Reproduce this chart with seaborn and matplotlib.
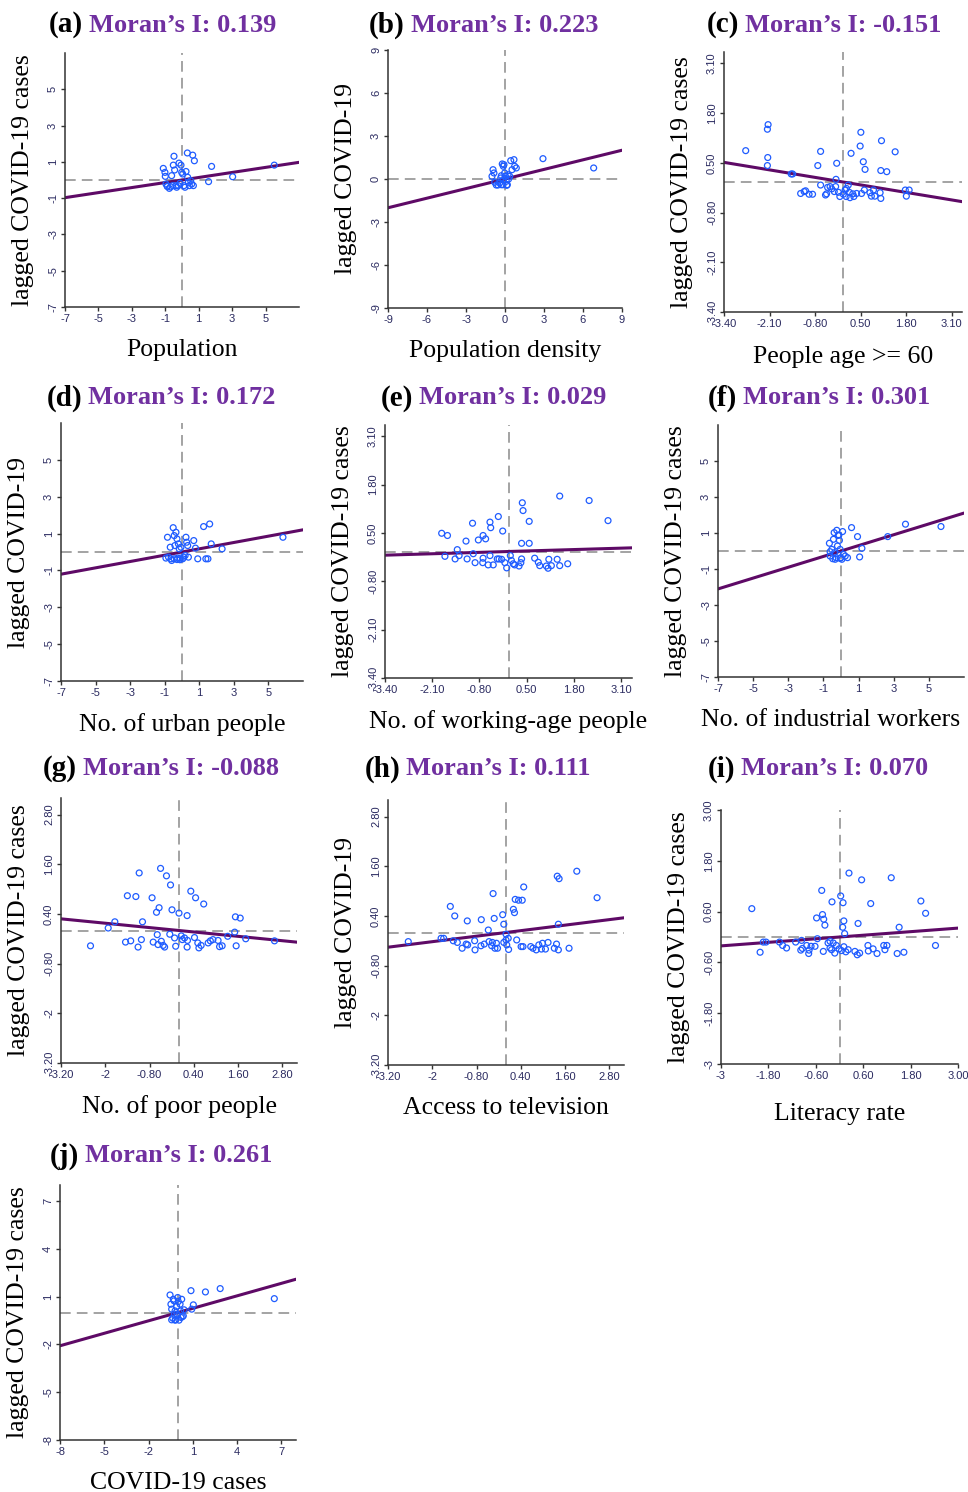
import numpy as np
import pandas as pd
import matplotlib.pyplot as plt
import seaborn as sns

sns.set_theme(style="ticks")
plt.rcParams["font.family"] = ["Liberation Serif", "DejaVu Serif"]

# ---- data ----
a_x = [-1.12, -1.02, -1.0, -0.96, -0.88, -0.76, -0.62, -0.52, -0.48, -0.44, -0.36, -0.22, -0.18, -0.06, -0.02, 0.04,
       0.12, 0.24, 0.32, 0.34, 0.38, 0.44, 0.52, 0.58, 0.64, 0.68, 0.74, 1.77, 1.59, 3.03, 5.52, -0.88, -0.68, -0.32,
       0.18, -0.12, -0.56]
a_y = [0.64, 0.42, 0.2, -0.22, -0.33, -0.46, 0.24, 0.82, 1.31, 0.55, -0.31, -0.31, 0.93, 0.82, 0.42, 0.33,
       -0.31, 0.47, 1.49, 0.15, -0.13, -0.31, -0.04, -0.22, 1.37, -0.31, 1.06, 0.75, -0.09, 0.18, 0.82, -0.36, -0.38,
       -0.4, -0.4, -0.18, -0.31]

b_x = [-0.92, -0.85, -1.0, -0.79, -0.67, -0.54, -0.41, -0.28, -0.15, -0.08, -0.13, -0.03, 0.03, 0.10, 0.18, 0.23,
       0.36, 0.44, 0.54, 0.69, 0.87, 0.74, -0.21, -0.28, -0.33, 2.92, 6.82, -0.15, 0.13, 0.28]
b_y = [0.65, 0.42, 0.19, -0.23, -0.42, -0.42, -0.28, -0.40, -0.05, 1.0, 0.89, 0.42, 0.19, -0.16, -0.40, 0.30,
       0.19, 1.28, 0.65, 1.35, 0.77, 0.89, 1.05, 0.23, 0.07, 1.42, 0.77, -0.4, -0.44, 0.0]

c_x = [-2.78, -2.16, -2.14, -2.15, -2.16, -1.48, -1.44, -1.21, -1.11, -1.07, -0.97, -0.87, -0.72, -0.64, -0.64,
       -0.50, -0.47, -0.44, -0.37, -0.32, -0.25, -0.21, -0.18, -0.20, -0.13, -0.09, 0.01, 0.06, 0.09, 0.10, 0.15,
       0.18, 0.20, 0.23, 0.28, 0.31, 0.39, 0.49, 0.51, 0.53, 0.58, 0.61, 0.63, 0.77, 0.81, 0.87, 0.91, 1.06, 1.08,
       1.10, 1.08, 1.25, 1.49, 1.78, 1.81, 1.89]
c_y = [0.82, 1.38, 1.50, 0.64, 0.43, 0.21, 0.21, -0.30, -0.25, -0.23, -0.32, -0.32, 0.43, 0.80, -0.08,
       -0.34, -0.31, -0.14, -0.12, -0.18, -0.25, -0.12, 0.49, 0.07, -0.27, -0.38, -0.32, -0.21, -0.38, -0.17, -0.08,
       -0.27, -0.41, 0.75, -0.31, -0.38, -0.30, 0.94, 1.30, -0.30, 0.53, -0.21, 0.33, -0.28, -0.37, -0.21, -0.37,
       -0.28, -0.43, 1.08, 0.30, 0.27, 0.79, -0.21, -0.37, -0.21]

d_x = [-0.84, -0.68, -0.64, -0.51, -0.45, -0.41, -0.35, -0.29, -0.25, -0.21, -0.16, -0.10, -0.06, 0.04, 0.10, 0.18,
       0.23, 0.27, 0.33, 0.37, 0.68, 0.78, 0.91, 1.25, 1.38, 1.50, 1.60, 1.69, 2.32, 5.84, -0.93, -0.78, -0.60, -0.45,
       -0.29, -0.12]
d_y = [0.80, 0.26, -0.37, 1.32, 0.89, 0.35, 1.07, 0.71, -0.33, 0.44, 0.17, -0.33, 0.26, -0.37, -0.28, -0.19,
       0.80, 0.53, 0.35, -0.28, 0.62, 0.21, -0.37, 1.38, -0.37, -0.37, 1.52, 0.44, 0.17, 0.80, -0.33, -0.28, -0.46,
       -0.37, -0.41, -0.42]

e_x = [-1.84, -1.68, -1.75, -1.47, -1.41, -1.36, -1.17, -1.14, -0.99, -0.97, -0.92, -0.83, -0.70, -0.63, -0.70,
       -0.71, -0.56, -0.51, -0.49, -0.51, -0.42, -0.28, -0.31, -0.26, -0.19, -0.16, -0.10, -0.05, 0.05, 0.08, 0.13,
       0.17, 0.29, 0.36, 0.36, 0.34, 0.38, 0.40, 0.57, 0.57, 0.72, 0.82, 0.86, 1.04, 1.09, 1.11, 1.18, 1.34, 1.41,
       1.41, 1.63, 2.22, 2.74]
e_y = [0.49, 0.43, -0.13, -0.20, 0.05, -0.11, 0.28, -0.20, 0.76, -0.06, -0.30, 0.31, 0.43, 0.34, -0.18,
       -0.30, -0.36, 0.79, 0.64, -0.11, -0.36, 0.94, -0.20, -0.20, -0.21, 0.55, -0.30, -0.44, -0.11, -0.24, -0.33,
       -0.36, -0.39, 0.22, -0.20, -0.30, 1.31, 1.10, 0.81, 0.22, -0.18, -0.29, -0.38, -0.39, -0.45, -0.21, -0.38,
       -0.21, -0.38, 1.49, -0.33, 1.37, 0.83]

f_x = [-0.66, -0.62, -0.52, -0.47, -0.43, -0.39, -0.33, -0.28, -0.24, -0.20, -0.16, -0.12, -0.09, -0.05, -0.05,
       -0.01, 0.05, 0.09, 0.14, 0.24, 0.37, 0.60, 0.94, 1.06, 1.19, 2.66, 3.67, 5.69, -0.62, -0.37]
f_y = [0.43, -0.28, 0.09, -0.43, 0.65, 1.02, -0.46, -0.37, 1.15, 0.28, 0.87, 0.89, 0.59, 0.09, -0.41,
       -0.37, -0.46, 1.08, -0.19, -0.28, -0.37, 1.30, 0.80, -0.33, 0.15, 0.80, 1.49, 1.36, -0.04, -0.09]

g_x = [-2.40, -1.92, -1.74, -1.45, -1.40, -1.31, -1.17, -1.11, -1.08, -1.02, -0.99, -0.73, -0.70, -0.61, -0.59,
       -0.57, -0.54, -0.50, -0.48, -0.43, -0.39, -0.34, -0.25, -0.23, -0.19, -0.12, -0.09, 0.00, 0.06, 0.09, 0.15,
       0.22, 0.22, 0.23, 0.32, 0.42, 0.45, 0.51, 0.54, 0.60, 0.67, 0.79, 0.85, 0.92, 1.06, 1.10, 1.17, 1.32, 1.51,
       1.53, 1.55, 1.66, 1.81, 2.59]
g_y = [-0.37, 0.06, 0.21, -0.28, 0.84, -0.25, 0.82, -0.40, 1.39, -0.22, 0.21, 0.79, -0.28, 0.44, -0.10,
       -0.34, 0.55, 1.50, -0.26, -0.36, -0.40, 1.32, -0.09, 1.10, 0.50, -0.18, -0.38, 0.42, -0.13, -0.22, -0.18,
       -0.40, 0.36, -0.24, 0.95, -0.17, 0.79, -0.30, -0.42, -0.36, 0.64, -0.30, -0.25, -0.22, -0.24, -0.39, -0.37,
       -0.14, -0.04, 0.33, -0.37, 0.30, -0.20, -0.25]

h_x = [-2.65, -1.76, -1.69, -1.51, -1.43, -1.39, -1.32, -1.19, -1.08, -1.05, -1.04, -0.85, -0.84, -0.68, -0.67,
       -0.59, -0.48, -0.46, -0.39, -0.37, -0.35, -0.32, -0.30, -0.26, -0.23, -0.09, -0.06, -0.06, 0.00, 0.00, 0.02,
       0.06, 0.07, 0.20, 0.23, 0.25, 0.29, 0.34, 0.41, 0.44, 0.46, 0.48, 0.67, 0.73, 0.82, 0.89, 0.96, 0.99, 1.07,
       1.14, 1.31, 1.37, 1.39, 1.42, 1.42, 1.44, 1.71, 1.92, 2.47]
h_y = [-0.22, -0.14, -0.14, 0.63, -0.20, 0.40, -0.24, -0.38, -0.28, 0.28, -0.30, -0.20, -0.42, -0.32, 0.31,
       -0.28, 0.06, -0.22, -0.32, -0.24, 0.94, 0.34, -0.38, -0.26, -0.38, 0.43, 0.20, -0.24, -0.04, -0.18, -0.30,
       -0.14, -0.41, 0.56, 0.48, 0.80, -0.18, 0.78, -0.34, 0.78, -0.34, 1.10, -0.34, -0.38, -0.42, -0.30, -0.40,
       -0.26, -0.40, -0.24, -0.38, -0.28, 1.36, 0.20, -0.42, 1.30, -0.38, 1.48, 0.84]

i_x = [-2.22, -2.01, -1.93, -1.86, -1.52, -1.44, -1.34, -1.11, -0.98, -0.94, -0.96, -0.83, -0.78, -0.77, -0.72,
       -0.62, -0.58, -0.56, -0.45, -0.43, -0.41, -0.40, -0.37, -0.29, -0.24, -0.24, -0.20, -0.19, -0.16, -0.12,
       -0.08, -0.01, 0.03, 0.05, 0.08, 0.09, 0.11, 0.11, 0.13, 0.16, 0.22, 0.24, 0.39, 0.45, 0.47, 0.51, 0.56, 0.72,
       0.73, 0.79, 0.85, 0.95, 1.12, 1.15, 1.20, 1.31, 1.46, 1.51, 1.63, 2.06, 2.18, 2.43]
i_y = [0.67, -0.36, -0.12, -0.12, -0.12, -0.20, -0.26, -0.12, -0.31, -0.27, -0.08, -0.20, -0.39, -0.31, -0.22,
       -0.22, 0.45, -0.04, 1.10, 0.53, -0.34, 0.42, 0.28, -0.14, -0.10, -0.26, -0.30, 0.83, -0.14, -0.38,
       -0.20, -0.28, 0.97, -0.32, 0.23, 0.81, 0.38, -0.23, 0.08, -0.35, -0.30, 1.51, -0.34, -0.42, 0.32, -0.38, 1.35,
       -0.20, -0.33, 0.79, -0.28, -0.39, -0.20, -0.30, -0.20, 1.40, -0.39, 0.23, -0.36, 0.85, 0.56, -0.20]

j_x = [-0.54, -0.48, -0.43, -0.36, -0.32, -0.27, -0.25, -0.20, -0.16, -0.09, -0.05, -0.02, 0.02, 0.07, 0.14, 0.18,
       0.20, 0.25, 0.29, 0.36, 0.41, 0.88, 0.93, 1.04, 1.86, 2.86, 6.53, -0.43, -0.20]
j_y = [1.10, 0.52, 0.21, -0.35, 0.83, 0.73, -0.10, 0.10, -0.46, 0.37, -0.10, 0.94, 0.69, -0.48, 0.52, 0.10,
       -0.31, 0.83, -0.27, -0.21, 0.17, 1.37, 0.21, 0.48, 1.29, 1.50, 0.87, -0.46, -0.48]

letters = ["a", "b", "c", "d", "e", "f", "g", "h", "i", "j"]
morans_i = [0.139, 0.223, -0.151, 0.172, 0.029, 0.301, -0.088, 0.111, 0.070, 0.261]
xlabels = ["Population", "Population density", "People age >= 60", "No. of urban people",
           "No. of working-age people", "No. of industrial workers", "No. of poor people",
           "Access to television", "Literacy rate", "COVID-19 cases"]
ylabels = ["lagged COVID-19 cases", "lagged COVID-19", "lagged COVID-19 cases", "lagged COVID-19",
           "lagged COVID-19 cases", "lagged COVID-19 cases", "lagged COVID-19 cases", "lagged COVID-19",
           "lagged COVID-19 cases", "lagged COVID-19 cases"]

ticks_7 = [-7, -5, -3, -1, 1, 3, 5]
ticks_9 = [-9, -6, -3, 0, 3, 6, 9]
ticks_34 = [-3.4, -2.1, -0.8, 0.5, 1.8, 3.1]
lbl_34 = ["-3.40", "-2.10", "-0.80", "0.50", "1.80", "3.10"]
ticks_32 = [-3.2, -2.0, -0.8, 0.4, 1.6, 2.8]
lbl_32 = ["-3.20", "-2", "-0.80", "0.40", "1.60", "2.80"]
ticks_3 = [-3, -1.8, -0.6, 0.6, 1.8, 3.0]
lbl_3 = ["-3", "-1.80", "-0.60", "0.60", "1.80", "3.00"]
ticks_8 = [-8, -5, -2, 1, 4, 7]

panel_x = [a_x, b_x, c_x, d_x, e_x, f_x, g_x, h_x, i_x, j_x]
panel_y = [a_y, b_y, c_y, d_y, e_y, f_y, g_y, h_y, i_y, j_y]
limits = [7, 9, 3.4, 7, 3.4, 7, 3.2, 3.2, 3.0, 8]
tick_vals = [ticks_7, ticks_9, ticks_34, ticks_7, ticks_34, ticks_7, ticks_32, ticks_32, ticks_3, ticks_8]
tick_lbls = [[str(t) for t in ticks_7], [str(t) for t in ticks_9], lbl_34, [str(t) for t in ticks_7], lbl_34,
             [str(t) for t in ticks_7], lbl_32, lbl_32, lbl_3, [str(t) for t in ticks_8]]

# axes boxes in pixels: left, top, right, bottom
boxes = [(65, 53, 299, 307), (388, 50, 622, 308), (724, 52, 962, 312),
         (61, 423, 303, 681), (385, 425, 632, 678), (718, 425, 964, 677),
         (61, 798, 297, 1063), (388, 800, 624, 1065), (721, 810, 958, 1064),
         (60, 1185, 296, 1440)]
# title split point (x) and centre (y) in pixels
title_pos = [(86, 25), (408, 25), (742, 25), (85, 398), (416, 398), (740, 398),
             (80, 769), (403, 769), (738, 769), (82, 1156)]
xpad = [11, 11, 12, 11, 11, 11, 11, 11, 16, 11]
xshift = [0, 0, 0, 0, 0, -10, 0, 0, 0, 0]

W, H = 968, 1492
fig = plt.figure(figsize=(W / 100, H / 100), dpi=100)

purple = "#7030a0"
line_col = "#5e0a66"
pt_col = "#1f5cff"
tick_col = "#2a2a60"

for k in range(10):
    l, t, r, b = boxes[k]
    ax = fig.add_axes([l / W, 1 - b / H, (r - l) / W, (b - t) / H])
    lim = limits[k]
    lo = tick_vals[k][0]
    ax.set_xlim(lo, lim)
    ax.set_ylim(lo, lim)

    ax.axvline(0, color="#8a8a8a", lw=1.1, ls=(0, (7, 4)), zorder=1)
    ax.axhline(0, color="#8a8a8a", lw=1.1, ls=(0, (7, 4)), zorder=1)

    fit = pd.DataFrame({"x": [lo, lim], "y": [morans_i[k] * lo, morans_i[k] * lim]})
    sns.lineplot(data=fit, x="x", y="y", ax=ax, color=line_col, lw=2.2, zorder=2)

    pts = pd.DataFrame({"x": panel_x[k], "y": panel_y[k]})
    sns.scatterplot(data=pts, x="x", y="y", ax=ax, marker="o", s=18,
                    fc="none", ec=pt_col, linewidth=0.9, zorder=3)

    ax.set_xticks(tick_vals[k])
    ax.set_xticklabels(tick_lbls[k], fontfamily="Liberation Sans", fontsize=8, color=tick_col)
    ax.set_yticks(tick_vals[k])
    ax.set_yticklabels(tick_lbls[k], fontfamily="Liberation Sans", fontsize=8, color=tick_col,
                       rotation=90, va="center")
    ax.tick_params(length=3, width=1, color="#333333", pad=2)

    sns.despine(ax=ax)
    for s in ["left", "bottom"]:
        ax.spines[s].set_color("#333333")
        ax.spines[s].set_linewidth(1.1)

    ax.set_xlabel(xlabels[k], fontsize=18.5, color="black", labelpad=xpad[k])
    ax.set_ylabel(ylabels[k], fontsize=18.5, color="black", labelpad=10)
    ax.xaxis.label.set_x(0.5 + xshift[k] / (r - l))

    tx, ty = title_pos[k]
    fig.text((tx - 3) / W, 1 - ty / H, "(" + letters[k] + ")", ha="right", va="center",
             fontsize=21, fontweight="bold", color="black")
    fig.text((tx + 3) / W, 1 - ty / H, "Moran\u2019s I: %.3f" % morans_i[k], ha="left", va="center",
             fontsize=19, fontweight="bold", color=purple)

fig.savefig("out.png", dpi=100)
